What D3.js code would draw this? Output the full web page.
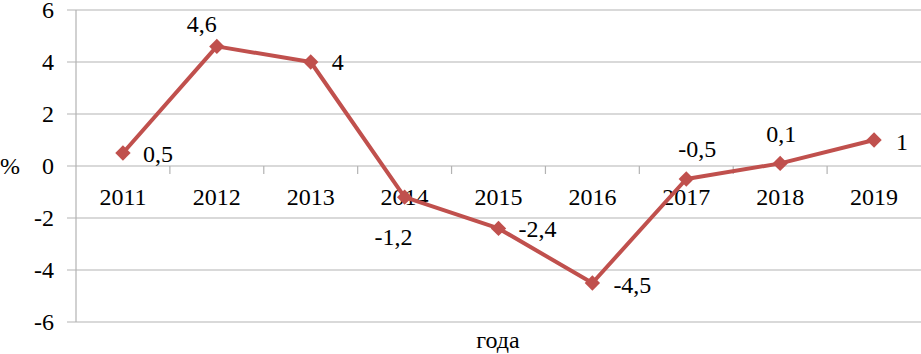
<!DOCTYPE html>
<html>
<head>
<meta charset="utf-8">
<script src="https://cdn.jsdelivr.net/npm/d3@7"></script>
<style>
  html, body { margin: 0; padding: 0; background: #fff; }
  svg { display: block; }
  svg text { font-family: "Liberation Serif", "DejaVu Serif", serif; }
</style>
</head>
<body>
<div id="container"></div>
<script>
const width = 921, height = 354;

// --- Data ---------------------------------------------------------------------
const years = ["2011", "2012", "2013", "2014", "2015", "2016", "2017", "2018", "2019"];
const values = [0.5, 4.6, 4, -1.2, -2.4, -4.5, -0.5, 0.1, 1];
const valueLabels = ["0,5", "4,6", "4", "-1,2", "-2,4", "-4,5", "-0,5", "0,1", "1"];
const yTicks = [-6, -4, -2, 0, 2, 4, 6];

// label placement per point (layout only): [dx, dy, anchor]
const labelNudge = [
  [20, 9, "start"], [-15, -14, "middle"], [21, 8, "start"],
  [-11, 48, "middle"], [20, 9, "start"], [21, 10, "start"],
  [11, -22, "middle"], [1, -21, "middle"], [22, 10, "start"]
];

const lineColor = "#c0504d";
const gridColor = "#b3b3b3";
const fontSize = "24px";
const serif = "'Liberation Serif', 'DejaVu Serif', serif";

const x = d3.scaleBand().domain(years).range([76, 921]);
const y = d3.scaleLinear().domain([-6, 6]).range([322, 10]);

const svg = d3.select("#container").append("svg")
  .attr("width", width).attr("height", height)
  .attr("font-family", serif);

// --- Gridlines + y axis ---------------------------------------------------------
svg.append("g")
  .selectAll("line")
  .data(yTicks)
  .join("line")
  .attr("x1", 67)
  .attr("x2", width)
  .attr("y1", (d) => y(d))
  .attr("y2", (d) => y(d))
  .attr("stroke", gridColor)
  .attr("stroke-width", 1.2);

svg.append("line")
  .attr("x1", 76).attr("x2", 76)
  .attr("y1", y(6)).attr("y2", y(-6))
  .attr("stroke", gridColor)
  .attr("stroke-width", 1.2);

svg.append("g")
  .selectAll("text")
  .data(yTicks)
  .join("text")
  .attr("x", 54)
  .attr("y", (d) => y(d))
  .attr("dy", "0.35em")
  .attr("text-anchor", "end")
  .style("font-family", serif)
  .style("font-size", fontSize)
  .text((d) => d);

svg.append("text")
  .attr("x", 0)
  .attr("y", y(0))
  .attr("dy", "0.35em")
  .style("font-family", serif)
  .style("font-size", fontSize)
  .text("%");

// --- Category axis on the zero line ---------------------------------------------
svg.append("g")
  .selectAll("line")
  .data(years.slice(1))
  .join("line")
  .attr("x1", (d) => x(d))
  .attr("x2", (d) => x(d))
  .attr("y1", y(0))
  .attr("y2", y(0) + 8)
  .attr("stroke", gridColor)
  .attr("stroke-width", 1.2);

svg.append("g")
  .selectAll("text")
  .data(years)
  .join("text")
  .attr("x", (d) => x(d) + x.bandwidth() / 2)
  .attr("y", y(0) + 39)
  .attr("text-anchor", "middle")
  .style("font-family", serif)
  .style("font-size", fontSize)
  .text((d) => d);

svg.append("text")
  .attr("x", 498)
  .attr("y", 348)
  .attr("text-anchor", "middle")
  .style("font-family", serif)
  .style("font-size", fontSize)
  .text("года");

// --- Series ----------------------------------------------------------------------
const pts = years.map((yr, i) => ({ yr, v: values[i], label: valueLabels[i], nudge: labelNudge[i] }));
const cx = (d) => x(d.yr) + x.bandwidth() / 2;

svg.append("path")
  .datum(pts)
  .attr("fill", "none")
  .attr("stroke", lineColor)
  .attr("stroke-width", 4)
  .attr("stroke-linejoin", "round")
  .attr("d", d3.line().x(cx).y((d) => y(d.v)));

svg.append("g")
  .selectAll("path")
  .data(pts)
  .join("path")
  .attr("transform", (d) => `translate(${cx(d)},${y(d.v)})`)
  .attr("d", d3.symbol(d3.symbolDiamond2, 150))
  .attr("fill", lineColor);

svg.append("g")
  .selectAll("text")
  .data(pts)
  .join("text")
  .attr("x", (d) => cx(d) + d.nudge[0])
  .attr("y", (d) => y(d.v) + d.nudge[1])
  .attr("text-anchor", (d) => d.nudge[2])
  .style("font-family", serif)
  .style("font-size", fontSize)
  .text((d) => d.label);
</script>
</body>
</html>
